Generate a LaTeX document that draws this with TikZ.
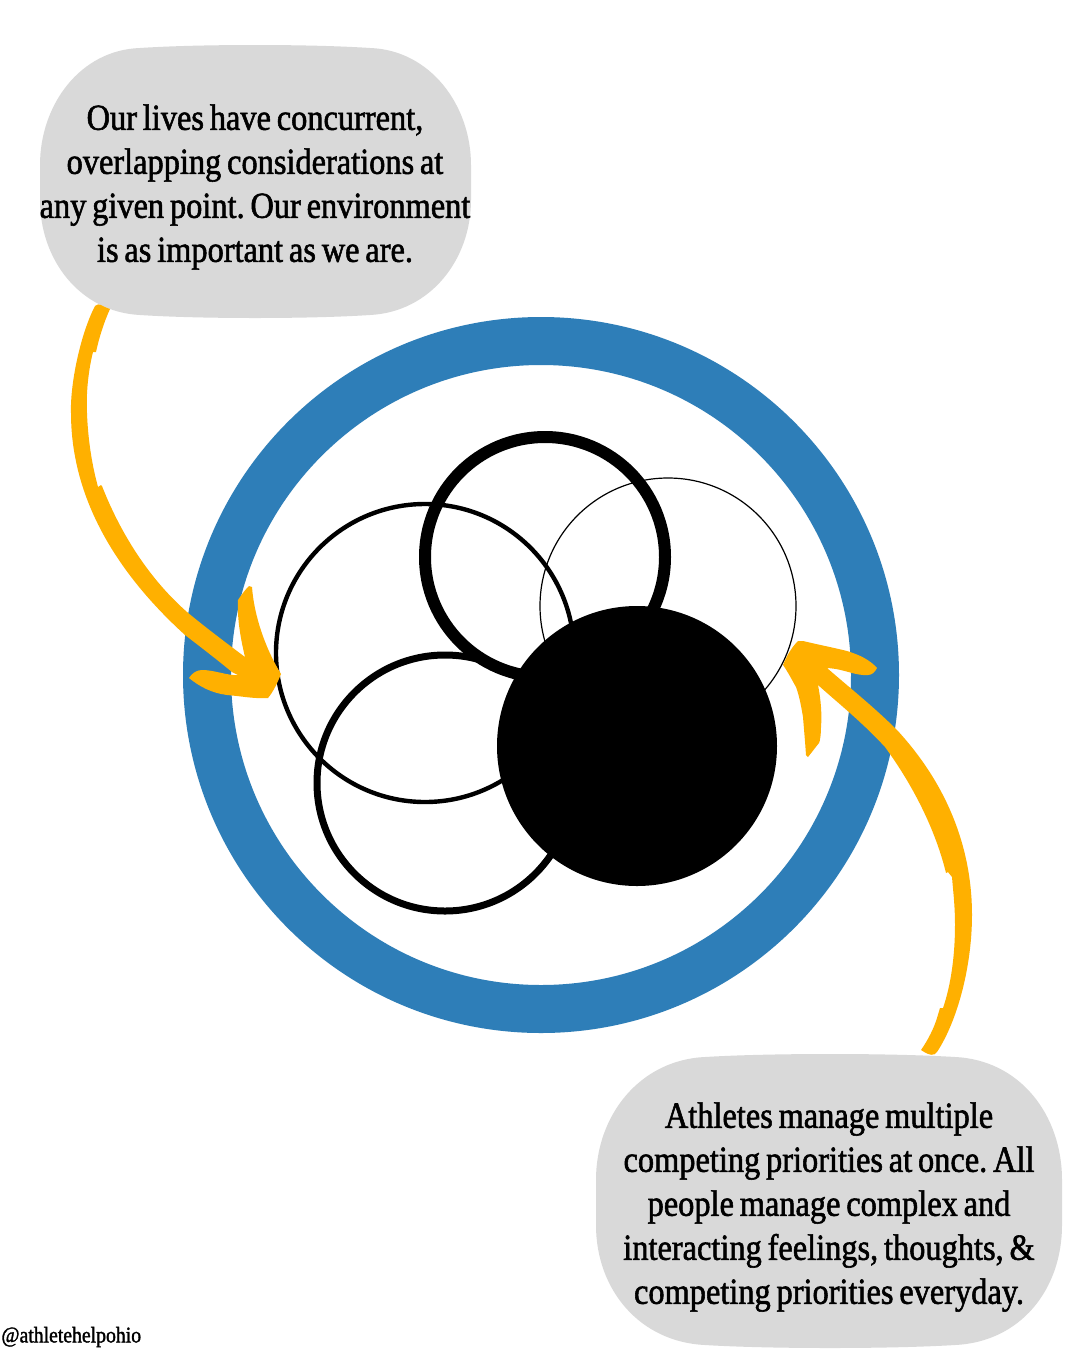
\documentclass[tikz,border=0pt]{standalone}
\usepackage{fontspec}
\setmainfont{Liberation Sans}
\newfontfamily\bubblefont[FakeStretch=0.88,FakeBold=1.5,WordSpace=0.72]{Liberation Serif}
\definecolor{bubblegrey}{HTML}{D9D9D9}
\definecolor{ringblue}{HTML}{2E7EB8}
\definecolor{arroworange}{HTML}{FFB000}
\tikzset{
  x=0.5pt,y=-0.5pt,
  ring/.style={circle,draw,inner sep=0pt,outer sep=0pt,fill=none},
  bubble/.style={fill=bubblegrey},
  bubbletext/.style={align=center,inner sep=0pt,text=black,font=\bubblefont\frenchspacing\fontsize{18.4}{22}\selectfont},
  brush/.style={fill=arroworange},
}
\begin{document}
\begin{tikzpicture}
\useasboundingbox (0,0) rectangle (1080,1350);
\fill[white] (0,0) rectangle (1080,1350);
% big ring
\node[ring,draw=ringblue,line width=24pt,minimum size=334pt] (outer) at (541,675) {};
% overlapping circles
\node[ring,line width=0.6pt,minimum size=128pt] (thin) at (668,606) {};
\node[ring,line width=2.2pt,minimum size=149pt] (left) at (425,653) {};
\node[ring,line width=3.5pt,minimum size=128pt] (low) at (445,783) {};
\node[ring,line width=6pt,minimum size=120pt] (thick) at (545,557) {};
\node[circle,fill=black,inner sep=0pt,minimum size=140pt] (solid) at (637,746) {};
% bubbles
\fill[bubble] (140,48) .. controls (200,44) and (310,44) .. (370,48)
  .. controls (430,50) and (471,105) .. (471,165) -- (471,200)
  .. controls (471,260) and (430,312) .. (370,315)
  .. controls (310,319) and (200,319) .. (140,315)
  .. controls (80,312) and (40,260) .. (40,200) -- (40,165)
  .. controls (40,105) and (80,50) .. (140,48) -- cycle;
\fill[bubble] (705,1057) .. controls (770,1053) and (890,1053) .. (955,1057)
  .. controls (1020,1060) and (1062,1115) .. (1062,1180) -- (1062,1225)
  .. controls (1062,1290) and (1020,1342) .. (955,1345)
  .. controls (890,1349) and (770,1349) .. (705,1345)
  .. controls (640,1342) and (596,1290) .. (596,1225) -- (596,1180)
  .. controls (596,1115) and (640,1060) .. (705,1057) -- cycle;
% brush arrows
\fill[brush] (95,306) .. controls (97,304) and (99,304) .. (101,305) -- (105,307) -- (110,309)
  .. controls (104,322) and (99,338) .. (96,352) -- (93,352)
  .. controls (88,372) and (86,395) .. (87,413)
  .. controls (88,440) and (92,465) .. (98,487) -- (101,485) -- (102,486)
  .. controls (118,527) and (145,575) .. (187,612)
  .. controls (205,627) and (225,642) .. (245,657)
  .. controls (241,640) and (237,620) .. (238,600)
  .. controls (242,594) and (245,590) .. (249,586) -- (252,587)
  .. controls (254,615) and (265,648) .. (281,674)
  .. controls (277,684) and (273,692) .. (268,698)
  .. controls (255,699) and (240,696) .. (227,695)
  .. controls (212,693) and (200,687) .. (189,678)
  .. controls (192,673) and (197,670) .. (202,670)
  .. controls (215,670) and (228,676) .. (238,675) -- (232,672)
  .. controls (215,658) and (198,645) .. (185,635)
  .. controls (130,585) and (71,510) .. (71,413)
  .. controls (70,385) and (80,335) .. (95,306) -- cycle;
\fill[brush] (783,665) .. controls (787,655) and (792,647) .. (798,641) -- (803,641)
  .. controls (820,645) and (835,648) .. (847,651)
  .. controls (860,655) and (870,660) .. (877,668)
  .. controls (875,672) and (872,675) .. (868,675)
  .. controls (855,676) and (845,669) .. (827,668)
  .. controls (850,688) and (875,708) .. (897,730)
  .. controls (945,782) and (972,845) .. (972,915)
  .. controls (972,965) and (958,1020) .. (937,1052)
  .. controls (934,1056) and (930,1056) .. (921,1050)
  .. controls (928,1040) and (934,1028) .. (937,1018) -- (940,1008) -- (943,1008)
  .. controls (951,985) and (955,955) .. (955,925)
  .. controls (955,905) and (953,890) .. (952,877) -- (948,872) -- (946,873)
  .. controls (938,840) and (920,795) .. (885,747)
  .. controls (862,722) and (838,703) .. (818,685)
  .. controls (821,700) and (822,715) .. (821,727)
  .. controls (821,735) and (820,741) .. (819,743)
  .. controls (815,748) and (812,752) .. (808,757) -- (806,755)
  .. controls (805,740) and (804,730) .. (803,717)
  .. controls (801,705) and (799,695) .. (796,687)
  .. controls (792,680) and (788,672) .. (783,665) -- cycle;
% text
\node[bubbletext] (topnote) at (255,187) {Our lives have concurrent,\\overlapping considerations at\\any given point. Our environment\\is as important as we are.};
\node[bubbletext] (botnote) at (829,1207) {Athletes manage multiple\\competing priorities at once. All\\people manage complex and\\interacting feelings, thoughts, \&\\competing priorities everyday.};
\node[anchor=west,inner sep=0pt,font=\bubblefont\fontsize{11.2}{12}\selectfont] (handle) at (1,1337) {@athletehelpohio};
\end{tikzpicture}
\end{document}
